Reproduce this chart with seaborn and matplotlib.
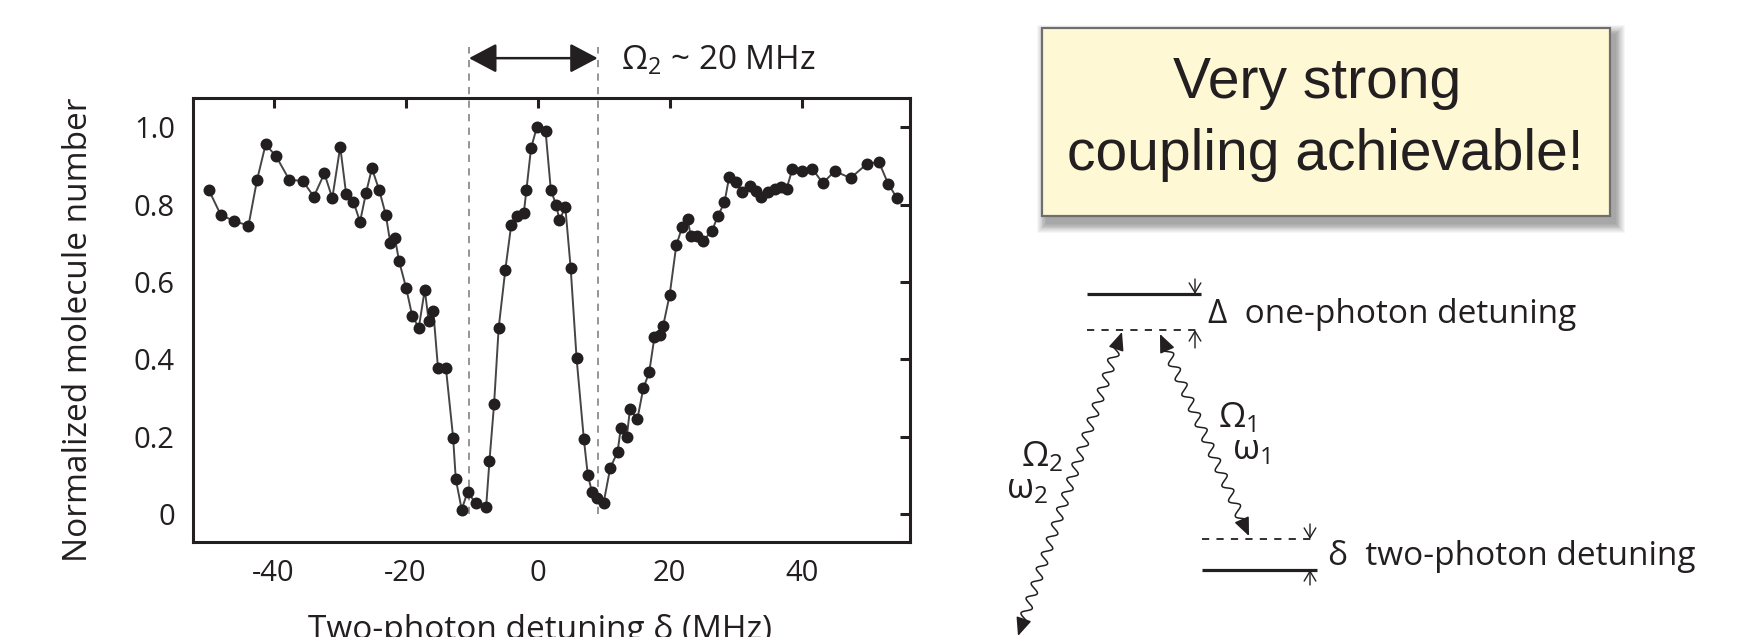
import numpy as np
import pandas as pd
import matplotlib
matplotlib.use("Agg")
import matplotlib.pyplot as plt
import seaborn as sns
from matplotlib.patches import Rectangle

# ---------------- data ----------------
detuning_mhz = [-49.8, -48.0, -46.0, -43.8, -42.5, -41.2, -39.6, -37.6, -35.6, -33.9,
                -32.3, -31.1, -29.9, -29.0, -27.9, -26.9, -26.0, -25.1, -24.0, -23.0,
                -22.3, -21.6, -21.0, -19.9, -19.0, -18.0, -17.1, -16.5, -15.8, -15.1,
                -13.9, -12.8, -12.4, -11.5, -10.6, -9.4, -7.8, -7.3, -6.6, -5.9,
                -4.9, -4.0, -3.1, -2.1, -1.7, -1.0, -0.1, 1.2, 2.0, 2.8,
                3.3, 4.2, 5.0, 5.9, 7.0, 7.6, 8.25, 9.0, 10.0, 11.0,
                12.1, 12.6, 13.5, 14.0, 15.1, 16.0, 16.9, 17.7, 18.5, 19.0,
                20.0, 21.0, 21.9, 22.7, 23.2, 24.1, 25.0, 26.4, 27.3, 28.3,
                29.0, 30.1, 30.9, 32.1, 33.0, 33.9, 34.9, 36.0, 36.9, 37.7,
                38.6, 40.1, 41.6, 43.2, 45.0, 47.4, 49.9, 51.7, 53.1, 54.4]
molecule_number = [0.838, 0.774, 0.758, 0.746, 0.864, 0.956, 0.925, 0.864, 0.862, 0.821,
                   0.881, 0.817, 0.950, 0.827, 0.808, 0.756, 0.830, 0.894, 0.838, 0.774,
                   0.700, 0.713, 0.655, 0.584, 0.513, 0.482, 0.580, 0.500, 0.525, 0.379,
                   0.379, 0.198, 0.091, 0.012, 0.058, 0.028, 0.019, 0.137, 0.284, 0.482,
                   0.631, 0.748, 0.771, 0.778, 0.838, 0.946, 1.002, 0.991, 0.838, 0.800,
                   0.761, 0.793, 0.637, 0.403, 0.194, 0.101, 0.056, 0.041, 0.030, 0.120,
                   0.160, 0.223, 0.200, 0.273, 0.245, 0.325, 0.367, 0.459, 0.463, 0.486,
                   0.567, 0.695, 0.743, 0.763, 0.720, 0.720, 0.706, 0.732, 0.771, 0.806,
                   0.871, 0.858, 0.834, 0.849, 0.836, 0.821, 0.834, 0.840, 0.847, 0.841,
                   0.893, 0.888, 0.893, 0.856, 0.887, 0.869, 0.906, 0.910, 0.854, 0.818]
omega2_window = [-10.4, 9.1]          # dashed markers, width ~ 20 MHz
x_ticks = [-40, -20, 0, 20, 40]
y_ticks = [0, 0.2, 0.4, 0.6, 0.8, 1.0]
y_tick_labels = ["0", "0.2", "0.4", "0.6", "0.8", "1.0"]

# ---------------- style ----------------
sns.set_theme(style="white")
plt.rcParams["font.family"] = ["Open Sans", "DejaVu Sans"]
plt.rcParams["axes.unicode_minus"] = False
plt.rcParams["mathtext.fontset"] = "custom"
plt.rcParams["mathtext.rm"] = "Open Sans"
plt.rcParams["mathtext.it"] = "Open Sans:italic"
plt.rcParams["mathtext.bf"] = "Open Sans:bold"

dark = "#231f20"
W, H = 1753, 637
fig = plt.figure(figsize=(W / 100, H / 100), dpi=100)
fig.patch.set_facecolor("white")

# overlay axes in pixel coordinates for the schematic parts
ov = fig.add_axes([0, 0, 1, 1])
ov.set_zorder(1)
ov.set_xlim(0, W)
ov.set_ylim(H, 0)
ov.axis("off")
ov.patch.set_alpha(0)

ax = fig.add_axes([193 / W, (H - 542) / H, (910 - 193) / W, (542 - 98) / H])
ax.set_zorder(2)
ax.patch.set_facecolor("white")

df = pd.DataFrame({"detuning": detuning_mhz, "n": molecule_number})
sns.lineplot(data=df, x="detuning", y="n", sort=False, estimator=None,
             color="#454545", linewidth=1.4, ax=ax, zorder=2)
sns.scatterplot(data=df, x="detuning", y="n", color=dark, s=74, linewidth=0,
                ax=ax, zorder=3)

ax.set_xlim(-52.2, 56.4)
ax.set_ylim(-0.072, 1.076)
ax.set_xticks(x_ticks)
ax.set_xticklabels([str(t) for t in x_ticks])
ax.set_yticks(y_ticks)
ax.set_yticklabels(y_tick_labels)
ax.tick_params(direction="in", length=7, width=2.2, top=True, right=True,
               color=dark, labelcolor=dark, labelsize=21)
ax.tick_params(axis="x", pad=12)
ax.tick_params(axis="y", pad=13)
for sp in ax.spines.values():
    sp.set_linewidth(2.2)
    sp.set_color(dark)

ax.set_xlabel("Two-photon detuning δ (MHz)", fontsize=24, color=dark)
ax.xaxis.label.set_va("baseline")
ax.xaxis.set_label_coords(0.484, -0.2185)
ax.set_ylabel("Normalized molecule number", fontsize=24, color=dark)
ax.yaxis.label.set_va("baseline")
ax.yaxis.set_label_coords(-0.1478, 0.4775)

# dashed markers and Omega2 arrow
for xv in omega2_window:
    ax.plot([xv, xv], [0.0, 1.208], ls=(0, (4, 3.5)), color="#8c8c8c", lw=1.3,
            clip_on=False, zorder=1)
ax.annotate("", xy=(omega2_window[0], 1.179), xytext=(omega2_window[1], 1.179),
            arrowprops=dict(arrowstyle="<|-|>,head_length=0.85,head_width=0.45",
                            mutation_scale=20, lw=1.8, color=dark,
                            shrinkA=0, shrinkB=0),
            annotation_clip=False)
ov.text(621, 70, r"$\mathrm{\Omega}_2$ ~ 20 MHz", fontsize=24, color=dark,
        ha="left", va="baseline")
ov.text(221, 490, r"P$_2$ ~ 20 x P$_1$", fontsize=24, color=dark,
        ha="left", va="baseline")

# ---------------- highlight box ----------------
x0, y0, x1, y1 = 1042, 28, 1610, 216
for k in range(1, 12):
    pad = k * 0.9
    ov.add_patch(Rectangle((x0 + 5 - pad, y0 + 7 - pad), (x1 - x0) + 2 * pad,
                           (y1 - y0) + 2 * pad, facecolor="#000000",
                           edgecolor="none", alpha=0.035, zorder=1))
ov.add_patch(Rectangle((x0, y0), x1 - x0, y1 - y0, facecolor="#fef9d4",
                       edgecolor="#6e6e6e", lw=1.6, zorder=2))
ov.text(1317, 98, "Very strong", fontsize=41, family="Liberation Sans",
        color=dark, ha="center", va="baseline", zorder=3)
ov.text(1325, 170, "coupling achievable!", fontsize=41, family="Liberation Sans",
        color=dark, ha="center", va="baseline", zorder=3)

# ---------------- level diagram ----------------
def small_arrow(p_from, p_to):
    ov.annotate("", xy=p_to, xytext=p_from,
                arrowprops=dict(arrowstyle="->,head_length=0.5,head_width=0.3",
                                mutation_scale=14, lw=1.0, color=dark,
                                shrinkA=0, shrinkB=0))


def wavy(p_a, p_b, wl=16.0, amp=4.6, straight=11.0):
    p_a = np.asarray(p_a, float)
    p_b = np.asarray(p_b, float)
    d = p_b - p_a
    L = np.hypot(*d)
    u = d / L
    nrm = np.array([-u[1], u[0]])
    span = L - 2 * straight
    ncyc = max(1, round(span / wl))
    s = np.linspace(0, span, 600)
    off = amp * np.sin(2 * np.pi * s / (span / ncyc))
    pts = p_a[None, :] + (straight + s)[:, None] * u[None, :] + off[:, None] * nrm[None, :]
    ov.plot(pts[:, 0], pts[:, 1], color=dark, lw=1.1)
    for tip, back in ((p_a, p_a + u * straight), (p_b, p_b - u * straight)):
        ov.annotate("", xy=tuple(tip), xytext=tuple(back),
                    arrowprops=dict(arrowstyle="-|>,head_length=0.7,head_width=0.3",
                                    mutation_scale=16, lw=1.1, color=dark,
                                    shrinkA=0, shrinkB=0))


# upper levels
ov.plot([1087, 1201], [294, 294], color=dark, lw=2.3, solid_capstyle="butt")
ov.plot([1087, 1200], [329.5, 329.5], color=dark, lw=1.3, ls=(0, (4, 4)))
small_arrow((1195, 279), (1195, 294))
small_arrow((1195, 348), (1195, 330))
ov.text(1208, 323, "Δ  one-photon detuning", fontsize=24, color=dark,
        ha="left", va="baseline")

# lower levels
ov.plot([1202, 1316], [539, 539], color=dark, lw=1.3, ls=(0, (4, 4)))
ov.plot([1202, 1317], [569.5, 569.5], color=dark, lw=2.3, solid_capstyle="butt")
small_arrow((1310, 524), (1310, 539))
small_arrow((1310, 585), (1310, 570))
ov.text(1328, 565, "δ  two-photon detuning", fontsize=24, color=dark,
        ha="left", va="baseline")

# photon arrows
wavy((1160, 334), (1249, 536))
wavy((1122, 332), (1018, 636))
ov.text(1218, 427, r"$\mathrm{\Omega}_1$", fontsize=25, color=dark, va="baseline")
ov.text(1232, 459, r"$\mathrm{\omega}_1$", fontsize=25, color=dark, va="baseline")
ov.text(1021, 466, r"$\mathrm{\Omega}_2$", fontsize=25, color=dark, va="baseline")
ov.text(1006, 498, r"$\mathrm{\omega}_2$", fontsize=25, color=dark, va="baseline")

fig.savefig("out.png", dpi=100)
